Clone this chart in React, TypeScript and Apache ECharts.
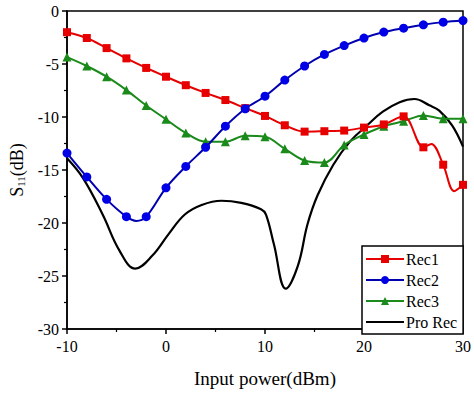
import React, { useEffect, useRef } from "react";
import * as echarts from "echarts";

const xs = [-10, -8, -6, -4, -2, 0, 2, 4, 6, 8, 10, 12, 14, 16, 18, 20, 22, 24, 26, 28, 30];
const rec1 = [-2.0, -2.55, -3.5, -4.47, -5.37, -6.2, -7.0, -7.73, -8.4, -9.16, -9.9, -10.78, -11.38, -11.34, -11.28, -11.0, -10.7, -9.94, -12.86, -14.5, -16.4];
const rec1Extra: [number, number][] = [[26.8, -12.55], [29.1, -17.0]];
const rec2 = [-13.4, -15.65, -17.77, -19.4, -19.4, -16.68, -14.66, -12.86, -10.87, -9.22, -8.04, -6.52, -5.19, -4.1, -3.26, -2.55, -1.99, -1.62, -1.3, -1.05, -0.9];
const rec2Extra: [number, number][] = [[-3, -19.8]];
const rec3 = [-4.35, -5.19, -6.2, -7.46, -8.92, -10.22, -11.5, -12.33, -12.33, -11.77, -11.87, -13.0, -14.1, -14.3, -12.64, -11.65, -10.87, -10.4, -9.85, -10.16, -10.16];
const proX = [-10, -8.4, -6.4, -4.7, -3.1, -1.4, 0.3, 1.9, 3.6, 5.6, 7.6, 9.6, 10.1, 10.9, 12.1, 13.3, 14.3, 15.3, 16.9, 18.6, 20.3, 21.9, 23.6, 25.1, 26.6, 27.6, 28.9, 30];
const proY = [-13.9, -15.75, -19.2, -22.6, -24.3, -23.1, -21.0, -19.2, -18.3, -17.9, -18.1, -18.7, -19.2, -22.0, -26.2, -24.1, -20.1, -17.4, -14.5, -12.3, -10.8, -9.5, -8.6, -8.3, -8.9, -9.4, -10.8, -12.8];

const FONT = "'Liberation Serif', 'Times New Roman', serif";

export default function App() {
  const ref = useRef<HTMLDivElement>(null);
  useEffect(() => {
    if (!ref.current) return;
    const chart = echarts.init(ref.current, null, { renderer: "svg" });
    const pair = (ys: number[]) => xs.map((x, i) => [x, ys[i]]);
    const withExtra = (ys: number[], extra: [number, number][]) => {
      const d: any[] = pair(ys).map((p) => ({ value: p }));
      extra.forEach((p) => d.push({ value: p, symbol: "none" }));
      d.sort((a, b) => a.value[0] - b.value[0]);
      return d;
    };
    chart.setOption({
      animation: false,
      textStyle: { fontFamily: FONT },
      grid: { left: 64, right: 10, top: 11, bottom: 60, show: true, borderColor: "#000", borderWidth: 1.5 },
      legend: {
        left: 362,
        top: 246,
        orient: "vertical",
        borderColor: "#000",
        borderWidth: 1.5,
        backgroundColor: "#fff",
        padding: [5, 6, 4, 3],
        itemWidth: 38,
        itemHeight: 10,
        itemGap: 5,
        textStyle: { fontFamily: FONT, fontSize: 16, color: "#000", padding: [0, 0, 0, -3] },
        data: ["Rec1", "Rec2", "Rec3", { name: "Pro Rec", itemStyle: { opacity: 0 } }],
      },
      xAxis: {
        type: "value",
        min: -10,
        max: 30,
        interval: 10,
        name: "Input power(dBm)",
        nameLocation: "middle",
        nameGap: 40,
        nameTextStyle: { fontFamily: FONT, fontSize: 19, color: "#000" },
        axisLine: { onZero: false, lineStyle: { color: "#000", width: 1.5 } },
        axisTick: { show: true, length: 5, lineStyle: { color: "#000", width: 1.5 } },
        minorTick: { show: true, splitNumber: 2, length: 3, lineStyle: { color: "#000", width: 1.2 } },
        axisLabel: { fontFamily: FONT, fontSize: 16, color: "#000", margin: 9 },
        splitLine: { show: false },
      },
      yAxis: {
        type: "value",
        min: -30,
        max: 0,
        interval: 5,
        name: "{s|S}{sub|11}{s|(dB)}",
        nameLocation: "middle",
        nameRotate: 90,
        nameGap: 41,
        nameTextStyle: {
          color: "#000",
          rich: {
            s: { fontFamily: FONT, fontSize: 18, color: "#000", verticalAlign: "bottom", lineHeight: 22 },
            sub: { fontFamily: FONT, fontSize: 11, color: "#000", verticalAlign: "bottom", lineHeight: 18 },
          },
        },
        axisLine: { show: true, onZero: false, lineStyle: { color: "#000", width: 1.5 } },
        axisTick: { show: true, length: 5, lineStyle: { color: "#000", width: 1.5 } },
        minorTick: { show: true, splitNumber: 2, length: 3, lineStyle: { color: "#000", width: 1.2 } },
        axisLabel: { fontFamily: FONT, fontSize: 16, color: "#000", margin: 8 },
        splitLine: { show: false },
      },
      series: [
        {
          name: "Rec1",
          type: "line",
          smooth: 0.35,
          symbol: "rect",
          symbolSize: 8,
          data: withExtra(rec1, rec1Extra),
          itemStyle: { color: "#e60000" },
          lineStyle: { color: "#e60000", width: 2 },
          z: 3,
        },
        {
          name: "Rec2",
          type: "line",
          smooth: 0.35,
          symbol: "circle",
          symbolSize: 9,
          data: withExtra(rec2, rec2Extra),
          itemStyle: { color: "#0000e6" },
          lineStyle: { color: "#0000b0", width: 2 },
          z: 4,
        },
        {
          name: "Rec3",
          type: "line",
          smooth: 0.35,
          symbol: "triangle",
          symbolSize: 9,
          data: pair(rec3),
          itemStyle: { color: "#1a8a1a" },
          lineStyle: { color: "#1a8a1a", width: 2 },
          z: 2,
        },
        {
          name: "Pro Rec",
          type: "line",
          smooth: 0.4,
          symbol: "none",
          data: proX.map((x, i) => [x, proY[i]]),
          itemStyle: { color: "#000" },
          lineStyle: { color: "#000", width: 2.2 },
          z: 1,
        },
      ],
    });
    return () => chart.dispose();
  }, []);
  return <div ref={ref} style={{ position: "absolute", left: 0, top: 0, width: 474, height: 393 }} />;
}
